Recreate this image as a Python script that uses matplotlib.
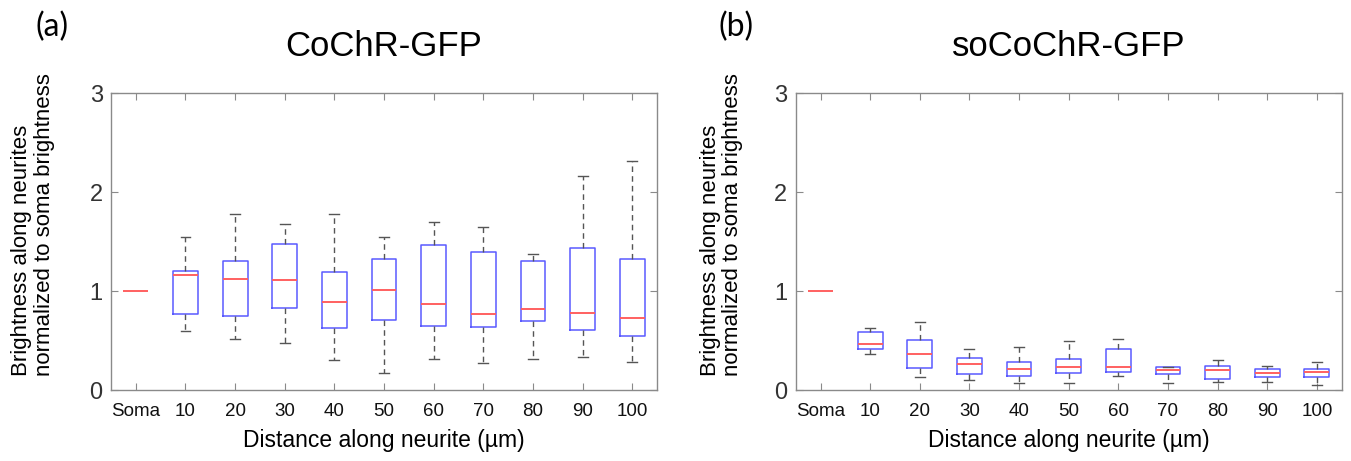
import matplotlib
matplotlib.use("Agg")
import matplotlib.pyplot as plt

plt.rcParams['font.family'] = ['Liberation Sans', 'DejaVu Sans']

categories = ["Soma", "10", "20", "30", "40", "50", "60", "70", "80", "90", "100"]

# CoChR-GFP: whisker low, Q1, median, Q3, whisker high
cochr_low = [1.0, 0.60, 0.52, 0.47, 0.30, 0.17, 0.31, 0.27, 0.31, 0.33, 0.28]
cochr_q1 = [1.0, 0.77, 0.75, 0.83, 0.63, 0.71, 0.65, 0.64, 0.70, 0.61, 0.55]
cochr_med = [1.0, 1.16, 1.12, 1.11, 0.89, 1.01, 0.87, 0.77, 0.82, 0.78, 0.73]
cochr_q3 = [1.0, 1.20, 1.30, 1.48, 1.19, 1.32, 1.47, 1.39, 1.30, 1.43, 1.32]
cochr_high = [1.0, 1.55, 1.78, 1.68, 1.78, 1.55, 1.70, 1.65, 1.37, 2.16, 2.31]

# soCoChR-GFP
socochr_low = [1.0, 0.36, 0.135, 0.10, 0.07, 0.075, 0.14, 0.075, 0.08, 0.085, 0.055]
socochr_q1 = [1.0, 0.41, 0.22, 0.165, 0.145, 0.17, 0.18, 0.16, 0.11, 0.135, 0.13]
socochr_med = [1.0, 0.46, 0.36, 0.26, 0.21, 0.23, 0.23, 0.20, 0.20, 0.175, 0.18]
socochr_q3 = [1.0, 0.59, 0.51, 0.32, 0.28, 0.31, 0.41, 0.23, 0.24, 0.21, 0.21]
socochr_high = [1.0, 0.63, 0.69, 0.41, 0.43, 0.50, 0.52, 0.23, 0.30, 0.245, 0.28]

BOX_C = "#5a5aff"
MED_C = "#ff6060"
WHISK_C = "#555555"
AX_C = "#8a8a8a"


def make_stats(low, q1, med, q3, high):
    return [{"whislo": lo, "q1": a, "med": m, "q3": b, "whishi": hi, "fliers": []}
            for lo, a, m, b, hi in zip(low, q1, med, q3, high)]


def draw_panel(ax, stats, title, letter, ylabel_x):
    parts = ax.bxp(stats, positions=range(1, len(stats) + 1), widths=0.5, capwidths=0.2,
                   showfliers=False, patch_artist=False,
                   boxprops=dict(color=BOX_C, linewidth=1.1),
                   medianprops=dict(color=MED_C, linewidth=1.4),
                   whiskerprops=dict(color=WHISK_C, linewidth=1.0, linestyle=(0, (4, 3))),
                   capprops=dict(color=WHISK_C, linewidth=1.0))
    # soma is a single value: only the red median line shows
    parts["boxes"][0].set_visible(False)
    for art in parts["caps"][:2] + parts["whiskers"][:2]:
        art.set_visible(False)

    ax.set_xlim(0.5, len(stats) + 0.5)
    ax.set_ylim(0, 3)
    ax.set_yticks([0, 1, 2, 3])
    ax.set_xticks(range(1, len(stats) + 1))
    ax.set_xticklabels(categories, fontsize=13.5, color="#111111")
    ax.tick_params(axis="y", labelsize=17, labelcolor="#333333", pad=6)
    ax.tick_params(axis="x", pad=9)
    ax.tick_params(direction="in", length=5, color=AX_C, top=True, right=True)
    for sp in ax.spines.values():
        sp.set_color(AX_C)
        sp.set_linewidth(1.0)
    ax.set_xlabel("Distance along neurite (µm)", fontsize=16.5, labelpad=7)

    box = ax.get_position()
    cx = box.x0 + box.width / 2
    fig.text(cx, 0.9, title, fontsize=25, ha="center", va="center")
    fig.text(box.x0 - 0.044, 0.942, letter, fontsize=23, ha="center", va="center",
             family=["Lato", "DejaVu Sans"])
    fig.text(ylabel_x, 0.184, "Brightness along neurites\nnormalized to soma brightness",
             rotation=90, fontsize=16, ha="center", va="bottom", multialignment="left",
             linespacing=1.1)


fig = plt.figure(figsize=(13.51, 4.61), dpi=100)
ax1 = fig.add_axes([0.0822, 0.154, 0.4041, 0.644])
ax2 = fig.add_axes([0.589, 0.154, 0.4041, 0.644])

draw_panel(ax1, make_stats(cochr_low, cochr_q1, cochr_med, cochr_q3, cochr_high),
           "CoChR-GFP", "(a)", 0.0245)
draw_panel(ax2, make_stats(socochr_low, socochr_q1, socochr_med, socochr_q3, socochr_high),
           "soCoChR-GFP", "(b)", 0.534)

fig.savefig("out.png", dpi=100)
